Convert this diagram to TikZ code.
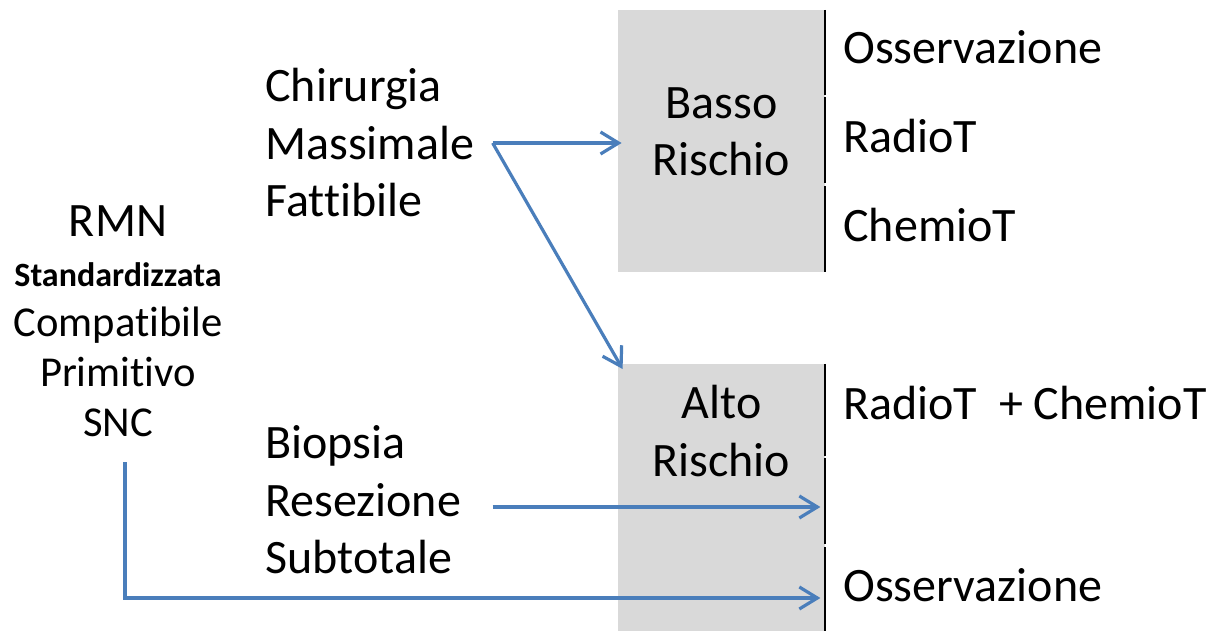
\documentclass[tikz,border=0pt]{standalone}
\usepackage{fontspec}
\setmainfont{Carlito}[Ligatures=NoCommon]
\usetikzlibrary{positioning,arrows.meta}
\definecolor{flowblue}{HTML}{4A7EBB}
\definecolor{boxgray}{HTML}{D9D9D9}

\begin{document}
\begin{tikzpicture}[x=0.5pt,y=-0.5pt,>={Straight Barb[length=9pt,width=11pt]}]
	\tikzstyle{every node}=[inner sep=0pt, font=\fontsize{24}{28.75}\selectfont]
	\tikzstyle{riskbox}=[rectangle, fill=boxgray, minimum width=103.5pt]
	\tikzstyle{flow}=[draw=flowblue, line width=1.6pt, ->]
	\tikzstyle{cut}=[draw=black, line width=1pt]

	\useasboundingbox (0,0) rectangle (1223,631);

	\node[riskbox, minimum height=131pt] (basso) at (721.5,141) {};
	\node[riskbox, minimum height=133.5pt, anchor=north] (alto) at (721.5,364) {};
	\node[align=center] (bassotxt) at (721.5,132) {Basso\\Rischio};
	\node[align=center] (altotxt) at (721.5,431) {Alto\\Rischio};

	\node[align=center, font=\fontsize{21.3}{25}\selectfont] (rmn) at (118,321) {{\fontsize{24}{25}\selectfont RMN}\\{\bfseries\fontsize{17}{20}\selectfont Standardizzata}\\Compatibile\\Primitivo\\SNC};
	\node[align=left, anchor=west] (chir) at (265,143) {Chirurgia\\Massimale\\Fattibile};
	\node[align=left, anchor=west] (bio) at (265,500) {Biopsia\\Resezione\\Subtotale};

	\node[anchor=west] (oss1) at (843,47) {Osservazione};
	\node[anchor=west] (radio1) at (843,136) {RadioT};
	\node[anchor=west] (chemio1) at (843,225) {ChemioT};
	\node[anchor=west] (combo) at (843,403) {RadioT~~+ ChemioT};
	\node[anchor=west] (oss2) at (843,585) {Osservazione};

	% dividing lines on the right of the boxes
	\foreach \ya/\yb in {10/95, 97/183, 186/272, 364/456, 458/544, 547/631}
		\draw[cut] (825,\ya) -- (825,\yb);

	\coordinate (fork) at ([xshift=9pt]chir.east);
	\coordinate (biostart) at ([yshift=-3.5pt]bio.east -| fork);
	\coordinate (snc) at (125,462);

	\draw[flow, shorten >=-2pt] (fork) -- (fork -| basso.west);
	\draw[flow] (fork) -- ([xshift=2.5pt,yshift=-2.5pt]alto.north west);
	\draw[flow, shorten >=2.5pt] (biostart) -- (biostart -| alto.east);
	\draw[flow, shorten >=2.5pt] (snc) |- ([yshift=-6.5pt]oss2.west -| alto.east);

\end{tikzpicture}
\end{document}
